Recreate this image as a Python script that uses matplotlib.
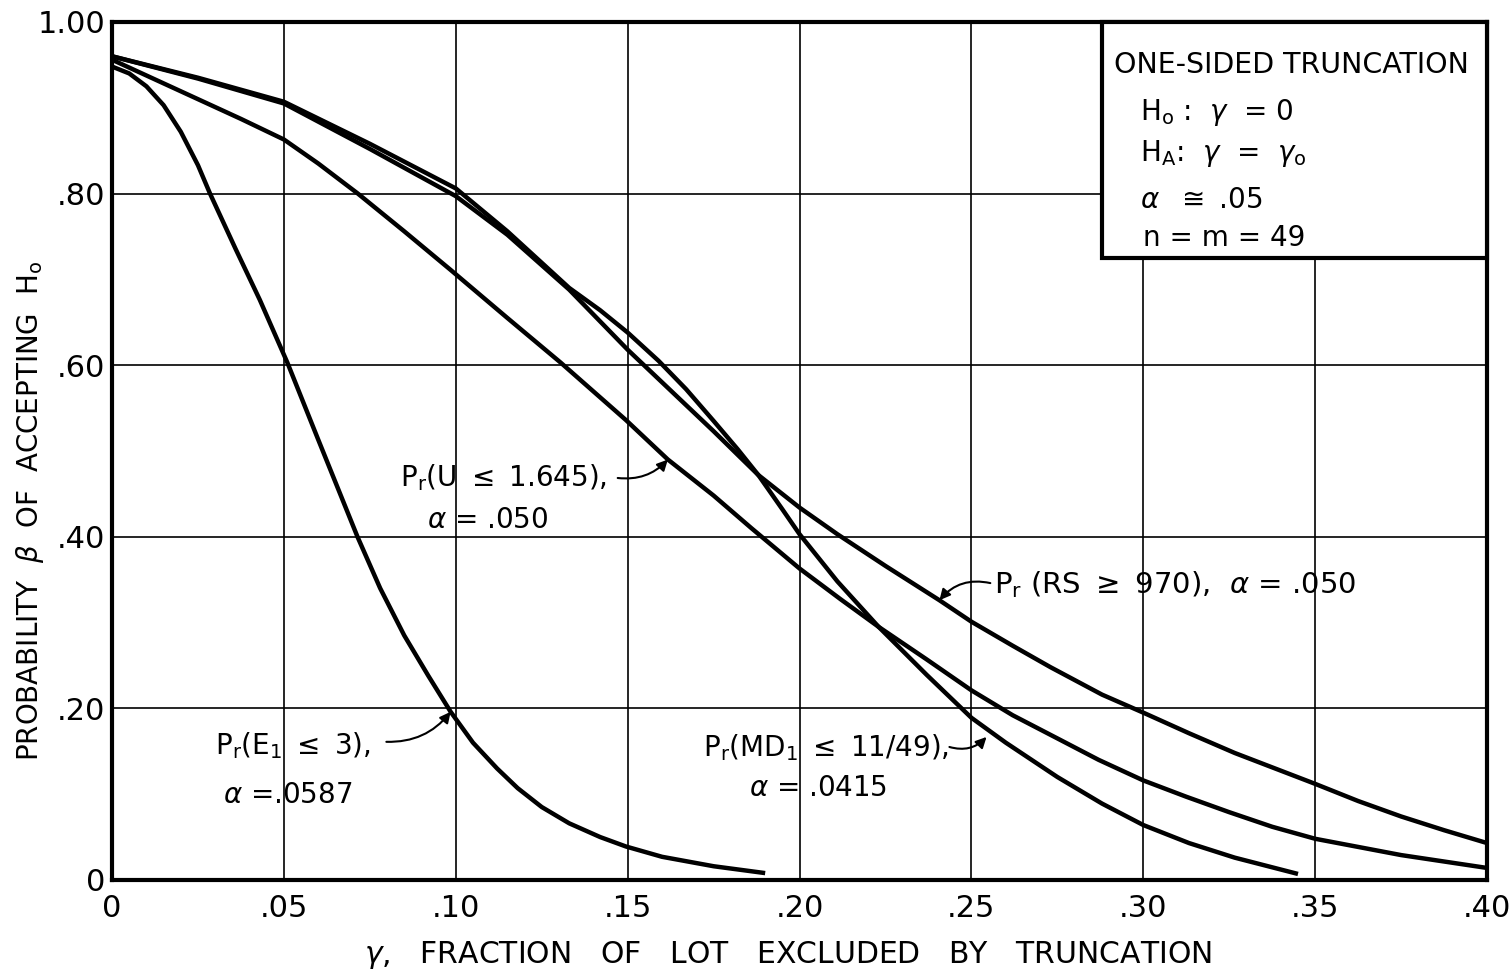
import matplotlib.pyplot as plt

plt.rcParams['font.family'] = ['DejaVu Sans']
plt.rcParams['mathtext.fontset'] = 'dejavusans'

# curves: gamma (fraction excluded) vs beta
e1_x = [0.0, 0.005, 0.010, 0.015, 0.020, 0.025, 0.0285, 0.036, 0.043, 0.051, 0.060,
        0.0714, 0.078, 0.085, 0.092, 0.0985, 0.105, 0.112, 0.118, 0.125, 0.133,
        0.142, 0.1495, 0.160, 0.175, 0.190]
e1_y = [0.948, 0.940, 0.925, 0.903, 0.872, 0.833, 0.800, 0.735, 0.676, 0.603, 0.513,
        0.400, 0.340, 0.285, 0.238, 0.196, 0.160, 0.130, 0.107, 0.085, 0.066,
        0.050, 0.039, 0.027, 0.016, 0.008]

u_x = [0.0, 0.0125, 0.025, 0.0375, 0.050, 0.060, 0.0715, 0.085, 0.0985, 0.115, 0.1305,
       0.1495, 0.1617, 0.175, 0.186, 0.200, 0.212, 0.223, 0.237, 0.250, 0.262, 0.275,
       0.287, 0.300, 0.3125, 0.325, 0.3375, 0.350, 0.375, 0.400]
u_y = [0.956, 0.933, 0.910, 0.887, 0.863, 0.835, 0.800, 0.756, 0.711, 0.655, 0.603,
       0.536, 0.490, 0.448, 0.410, 0.363, 0.327, 0.295, 0.257, 0.221, 0.192, 0.165,
       0.140, 0.116, 0.097, 0.079, 0.062, 0.048, 0.029, 0.014]

md_x = [0.0, 0.025, 0.050, 0.075, 0.100, 0.115, 0.133, 0.142, 0.150, 0.159, 0.167,
        0.175, 0.182, 0.188, 0.195, 0.200, 0.211, 0.223, 0.237, 0.250, 0.260, 0.275,
        0.288, 0.300, 0.3133, 0.3266, 0.345]
md_y = [0.960, 0.935, 0.907, 0.858, 0.806, 0.756, 0.690, 0.664, 0.638, 0.605, 0.572,
        0.535, 0.502, 0.472, 0.432, 0.403, 0.348, 0.295, 0.239, 0.189, 0.160, 0.120,
        0.089, 0.064, 0.043, 0.026, 0.007]

rs_x = [0.0, 0.025, 0.050, 0.075, 0.100, 0.115, 0.133, 0.150, 0.160, 0.175, 0.188,
        0.200, 0.211, 0.225, 0.2407, 0.250, 0.262, 0.273, 0.288, 0.300, 0.3133, 0.3266,
        0.3383, 0.350, 0.3625, 0.375, 0.3875, 0.400]
rs_y = [0.960, 0.934, 0.905, 0.852, 0.797, 0.752, 0.688, 0.618, 0.580, 0.523, 0.472,
        0.434, 0.403, 0.366, 0.326, 0.301, 0.273, 0.248, 0.216, 0.195, 0.171, 0.148,
        0.130, 0.112, 0.092, 0.074, 0.058, 0.043]

xticks = [0, 0.05, 0.10, 0.15, 0.20, 0.25, 0.30, 0.35, 0.40]
xtick_labels = ['0', '.05', '.10', '.15', '.20', '.25', '.30', '.35', '.40']
yticks = [0, 0.2, 0.4, 0.6, 0.8, 1.0]
ytick_labels = ['0', '.20', '.40', '.60', '.80', '1.00']

fig = plt.figure(figsize=(15.12, 9.76), dpi=100)
ax = fig.add_axes([0.0741, 0.0984, 0.9094, 0.8791])

for xs, ys in [(e1_x, e1_y), (u_x, u_y), (md_x, md_y), (rs_x, rs_y)]:
    ax.plot(xs, ys, color='black', lw=3.2, solid_capstyle='butt',
            solid_joinstyle='round', zorder=3)

ax.set_xlim(0, 0.40)
ax.set_ylim(0, 1.0)
ax.set_xticks(xticks)
ax.set_xticklabels(xtick_labels)
ax.set_yticks(yticks)
ax.set_yticklabels(ytick_labels)
ax.tick_params(length=0, labelsize=22)
ax.tick_params(axis='x', pad=10)
ax.tick_params(axis='y', pad=5)
ax.grid(True, color='black', lw=1.2)
ax.set_axisbelow(True)
for s in ax.spines.values():
    s.set_linewidth(3)

fig.text(0.020, 0.477, r'PROBABILITY  $\beta$  OF  ACCEPTING  H$_\mathregular{o}$',
         rotation=90, ha='center', va='center', fontsize=20)
fig.text(0.521, 0.022, r'$\gamma$,   FRACTION   OF   LOT   EXCLUDED   BY   TRUNCATION',
         ha='center', va='center', fontsize=21.5)

# note box, top right
box = plt.Rectangle((0.2879, 0.725), 0.1121, 0.275, fill=False, lw=3,
                    edgecolor='black', zorder=5, clip_on=False)
ax.add_patch(box)
ax.fill_between([0.2879, 0.40], 0.725, 1.0, color='white', zorder=4)
ax.text(0.2914, 0.950, 'ONE-SIDED TRUNCATION', fontsize=20.5, va='center', zorder=6)
ax.text(0.2990, 0.894, r'H$_\mathregular{o}$ :  $\gamma$  = 0', fontsize=20, va='center', zorder=6)
ax.text(0.2990, 0.847, r'H$_\mathregular{A}$:  $\gamma$  =  $\gamma_\mathregular{o}$', fontsize=20,
        va='center', zorder=6)
ax.text(0.2990, 0.793, r'$\alpha$  $\cong$ .05', fontsize=20, va='center', zorder=6)
ax.text(0.3000, 0.748, 'n = m = 49', fontsize=20, va='center', zorder=6)

arrow = dict(arrowstyle='-|>', color='black', lw=1.5, mutation_scale=16, shrinkA=0, shrinkB=0)

ax.text(0.1139, 0.4685, r'P$_\mathregular{r}$(U $\leq$ 1.645),', fontsize=20, ha='center', va='center')
ax.text(0.1093, 0.4196, r'$\alpha$ = .050', fontsize=20, ha='center', va='center')
ax.annotate('', xy=(0.1617, 0.490), xytext=(0.1471, 0.4685),
            arrowprops=dict(arrow, connectionstyle='arc3,rad=0.25'))

ax.text(0.2565, 0.3438, r'P$_\mathregular{r}$ (RS $\geq$ 970),  $\alpha$ = .050', fontsize=21,
        ha='left', va='center')
ax.annotate('', xy=(0.2407, 0.326), xytext=(0.2555, 0.346),
            arrowprops=dict(arrow, connectionstyle='arc3,rad=0.3'))

ax.text(0.0525, 0.157, r'P$_\mathregular{r}$(E$_\mathregular{1}$ $\leq$ 3),', fontsize=20,
        ha='center', va='center')
ax.text(0.0510, 0.099, r'$\alpha$ =.0587', fontsize=20, ha='center', va='center')
ax.annotate('', xy=(0.0985, 0.196), xytext=(0.0798, 0.161),
            arrowprops=dict(arrow, connectionstyle='arc3,rad=0.25'))

ax.text(0.2078, 0.154, r'P$_\mathregular{r}$(MD$_\mathregular{1}$ $\leq$ 11/49),', fontsize=20,
        ha='center', va='center')
ax.text(0.2054, 0.107, r'$\alpha$ = .0415', fontsize=20, ha='center', va='center')
ax.annotate('', xy=(0.2544, 0.1667), xytext=(0.2436, 0.155),
            arrowprops=dict(arrow, connectionstyle='arc3,rad=0.3'))

plt.savefig('out.png', dpi=100)
